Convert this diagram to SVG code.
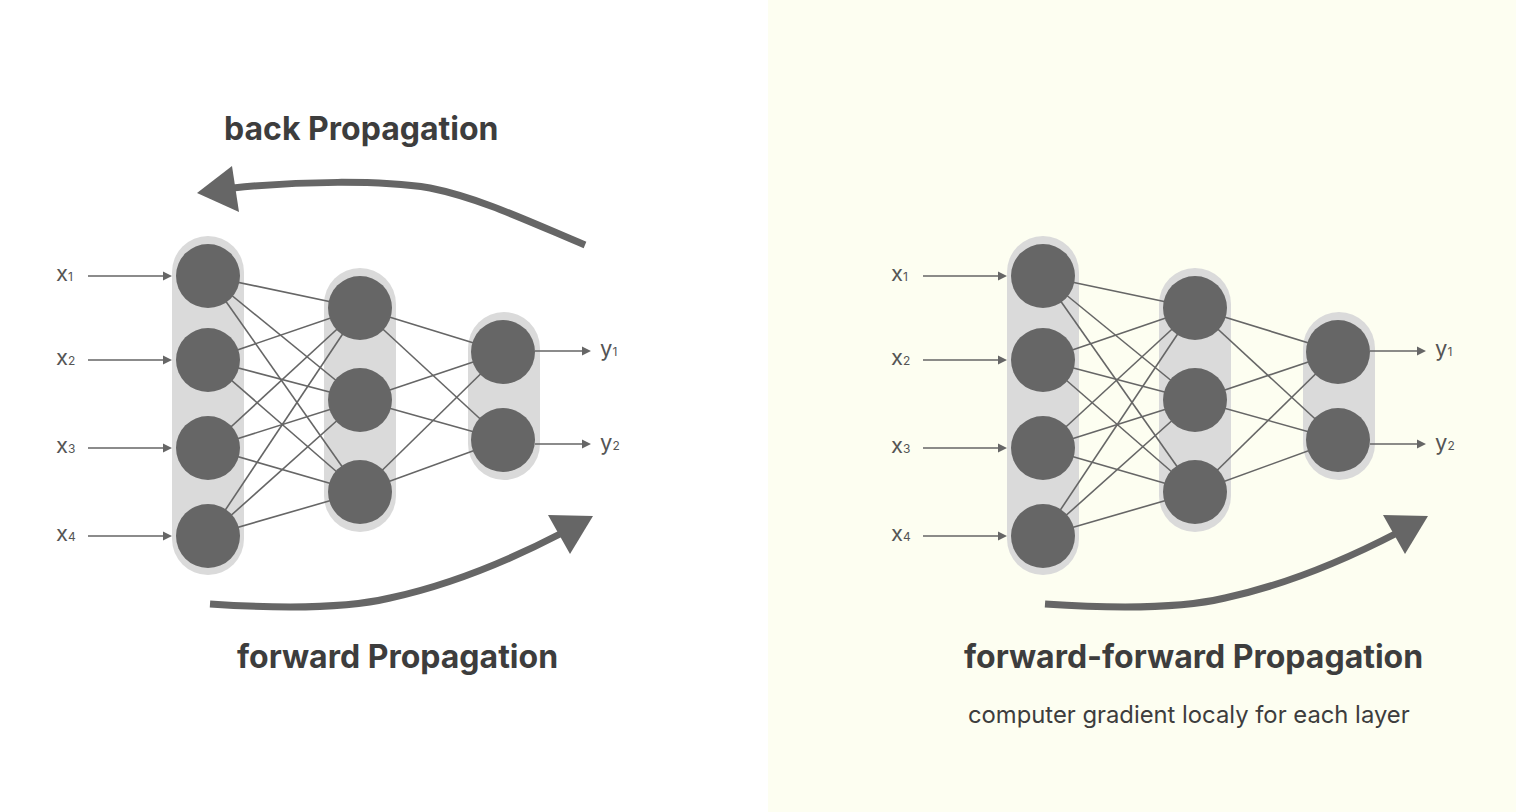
<svg xmlns="http://www.w3.org/2000/svg" width="1516" height="812" viewBox="0 0 1516 812">
<defs>
<style>
.pill{fill:#dadada}
.node{fill:#666666}
.conn line{stroke:#666666;stroke-width:1.6}
.io{stroke:#666666;stroke-width:1.6;fill:none}
.head{fill:#666666}
.big{stroke:#666666;stroke-width:7;fill:none}
.lbl{font-family:Inter,"Liberation Sans",sans-serif;fill:#555555;font-size:22px}
.sub{font-size:12px}
.title{font-family:Inter,"Liberation Sans",sans-serif;font-weight:700;fill:#3d3d3d;font-size:32px}
.note{font-family:Inter,"Liberation Sans",sans-serif;fill:#3d3d3d;font-size:23.8px}
</style>
<g id="net">
<g id="pills">
<rect class="pill" x="172" y="236" width="72" height="339" rx="36"/>
<rect class="pill" x="324" y="268" width="72" height="264" rx="36"/>
<rect class="pill" x="468" y="312" width="72" height="168" rx="36"/>
</g>
<g class="conn">
<line x1="208" y1="276" x2="360" y2="308"/><line x1="208" y1="276" x2="360" y2="400"/><line x1="208" y1="276" x2="360" y2="492"/>
<line x1="208" y1="360" x2="360" y2="308"/><line x1="208" y1="360" x2="360" y2="400"/><line x1="208" y1="360" x2="360" y2="492"/>
<line x1="208" y1="448" x2="360" y2="308"/><line x1="208" y1="448" x2="360" y2="400"/><line x1="208" y1="448" x2="360" y2="492"/>
<line x1="208" y1="536" x2="360" y2="308"/><line x1="208" y1="536" x2="360" y2="400"/><line x1="208" y1="536" x2="360" y2="492"/>
<line x1="360" y1="308" x2="503" y2="352"/><line x1="360" y1="308" x2="503" y2="440"/>
<line x1="360" y1="400" x2="503" y2="352"/><line x1="360" y1="400" x2="503" y2="440"/>
<line x1="360" y1="492" x2="503" y2="352"/><line x1="360" y1="492" x2="503" y2="440"/>
</g>
<g id="layer1">
<circle class="node" cx="208" cy="276" r="32"/><circle class="node" cx="208" cy="360" r="32"/><circle class="node" cx="208" cy="448" r="32"/><circle class="node" cx="208" cy="536" r="32"/></g>
<g id="layer2">
<circle class="node" cx="360" cy="308" r="32"/><circle class="node" cx="360" cy="400" r="32"/><circle class="node" cx="360" cy="492" r="32"/></g>
<g id="layer3">
<circle class="node" cx="503" cy="352" r="32"/><circle class="node" cx="503" cy="440" r="32"/></g>
<g id="io">
<path class="io" d="M88 276H165M88 360H165M88 448H165M88 536H165M535 351H583M535 444H583"/>
<path class="head" d="M172 276l-9-4.5v9zM172 360l-9-4.5v9zM172 448l-9-4.5v9zM172 536l-9-4.5v9zM591 351l-9-4.5v9zM591 444l-9-4.5v9z"/>
<text class="lbl" x="56" y="281">x<tspan class="sub">1</tspan></text>
<text class="lbl" x="56" y="365">x<tspan class="sub">2</tspan></text>
<text class="lbl" x="56" y="453">x<tspan class="sub">3</tspan></text>
<text class="lbl" x="56" y="541">x<tspan class="sub">4</tspan></text>
<text class="lbl" x="600" y="356">y<tspan class="sub">1</tspan></text>
<text class="lbl" x="600" y="450">y<tspan class="sub">2</tspan></text>
</g>
<g id="fwdarrow">
<path class="big" d="M210 604C270 608 340 610 390 598C450 585 510 560 562 533"/>
<path class="head" d="M593 516L548 515L570 554Z"/>
</g>
</g>
</defs>
<rect x="0" y="0" width="1516" height="812" fill="#ffffff"/>
<rect id="rightPanel" x="768" y="0" width="748" height="812" fill="#fdfef1"/>
<g id="left">
<use href="#net"/>
<g id="backarrow">
<path class="big" d="M585 245C530 222 480 198 430 188C380 180 300 181 233 188"/>
<path class="head" d="M197 193L232 166L239 212Z"/>
</g>
<text class="title" x="224" y="140">back Propagation</text>
<text class="title" x="237" y="668">forward Propagation</text>
</g>
<g id="right">
<use href="#net" x="835"/>
<text class="title" x="964" y="668">forward-forward Propagation</text>
<text class="note" x="968" y="723">computer gradient localy for each layer</text>
</g>
</svg>
